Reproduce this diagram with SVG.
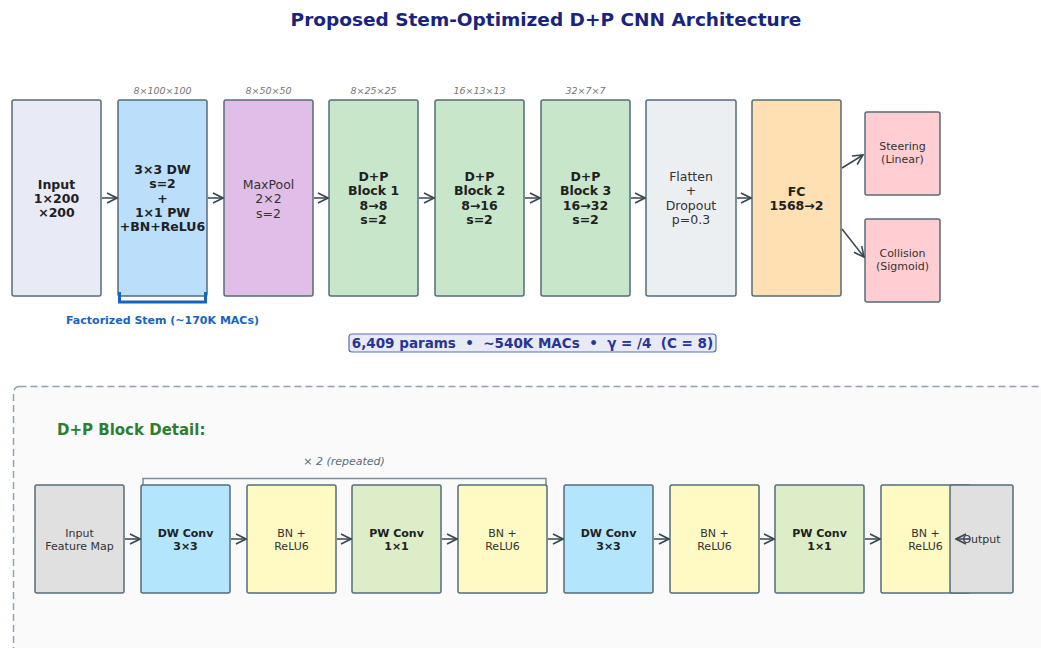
<svg xmlns="http://www.w3.org/2000/svg" width="1041" height="648" viewBox="0 0 1041 648">
<defs>
<marker id="ah" viewBox="0 0 12 12" refX="11" refY="6" markerWidth="12" markerHeight="12" markerUnits="userSpaceOnUse" orient="auto">
<path d="M1,1 L11,6 L1,11" fill="none" stroke="#37474f" stroke-width="1.6"/>
</marker>
<style>
text{font-family:"DejaVu Sans","Liberation Sans",sans-serif;fill:#263238;text-anchor:middle}
.bx{stroke:#546e7a;stroke-width:1.5}
.b{font-weight:bold;font-size:12.5px;fill:#212121}
.n{font-size:12.5px;fill:#333333}
.s{font-size:11px;fill:#333333}
.sb{font-size:11px;font-weight:bold;fill:#212121}
.dim{font-size:9.5px;font-style:italic;fill:#757575}
.c{stroke:#37474f;stroke-width:1.5;fill:none;marker-end:url(#ah)}
</style>
</defs>
<rect width="1041" height="648" fill="#ffffff"/>
<text x="546" y="26" style="font-size:18.5px;font-weight:bold;fill:#1a237e">Proposed Stem-Optimized D+P CNN Architecture</text>

<g id="input"><rect class="bx" x="12" y="100" width="89" height="196" rx="2" fill="#e8eaf6"/><text class="b"><tspan x="56.5" y="189">Input</tspan><tspan x="56.5" y="203">1×200</tspan><tspan x="56.5" y="217">×200</tspan></text></g>
<g id="stem"><rect class="bx" x="118" y="100" width="89" height="196" rx="2" fill="#bbdefb"/><text class="dim" x="162.5" y="94">8×100×100</text><text class="b"><tspan x="162.5" y="174">3×3 DW</tspan><tspan x="162.5" y="188.3">s=2</tspan><tspan x="162.5" y="202.6">+</tspan><tspan x="162.5" y="216.9">1×1 PW</tspan><tspan x="162.5" y="231.2">+BN+ReLU6</tspan></text></g>
<g id="maxpool"><rect class="bx" x="224" y="100" width="89" height="196" rx="2" fill="#e1bee7"/><text class="dim" x="268.5" y="94">8×50×50</text><text class="n"><tspan x="268.5" y="189">MaxPool</tspan><tspan x="268.5" y="203.3">2×2</tspan><tspan x="268.5" y="217.6">s=2</tspan></text></g>
<g id="block1"><rect class="bx" x="329" y="100" width="89" height="196" rx="2" fill="#c8e6c9"/><text class="dim" x="373.5" y="94">8×25×25</text><text class="b"><tspan x="373.5" y="181">D+P</tspan><tspan x="373.5" y="195.3">Block 1</tspan><tspan x="373.5" y="209.6">8→8</tspan><tspan x="373.5" y="223.9">s=2</tspan></text></g>
<g id="block2"><rect class="bx" x="435" y="100" width="89" height="196" rx="2" fill="#c8e6c9"/><text class="dim" x="479.5" y="94">16×13×13</text><text class="b"><tspan x="479.5" y="181">D+P</tspan><tspan x="479.5" y="195.3">Block 2</tspan><tspan x="479.5" y="209.6">8→16</tspan><tspan x="479.5" y="223.9">s=2</tspan></text></g>
<g id="block3"><rect class="bx" x="541" y="100" width="89" height="196" rx="2" fill="#c8e6c9"/><text class="dim" x="585.5" y="94">32×7×7</text><text class="b"><tspan x="585.5" y="181">D+P</tspan><tspan x="585.5" y="195.3">Block 3</tspan><tspan x="585.5" y="209.6">16→32</tspan><tspan x="585.5" y="223.9">s=2</tspan></text></g>
<g id="flatten"><rect class="bx" x="646" y="100" width="90" height="196" rx="2" fill="#eceff1"/><text class="n"><tspan x="691" y="181">Flatten</tspan><tspan x="691" y="195.3">+</tspan><tspan x="691" y="209.6">Dropout</tspan><tspan x="691" y="223.9">p=0.3</tspan></text></g>
<g id="fc"><rect class="bx" x="752" y="100" width="89" height="196" rx="2" fill="#ffe0b2"/><text class="b"><tspan x="796.5" y="196">FC</tspan><tspan x="796.5" y="210.3">1568→2</tspan></text></g>
<g id="steering"><rect class="bx" x="865" y="112" width="75" height="83" rx="2" fill="#ffcdd2"/><text class="s"><tspan x="902.5" y="150">Steering</tspan><tspan x="902.5" y="163">(Linear)</tspan></text></g>
<g id="collision"><rect class="bx" x="865" y="219" width="75" height="83" rx="2" fill="#ffcdd2"/><text class="s"><tspan x="902.5" y="257">Collision</tspan><tspan x="902.5" y="270">(Sigmoid)</tspan></text></g>

<g id="stem-bracket"><path d="M119.5,292 V302 H205.5 V292" fill="none" stroke="#1565c0" stroke-width="3"/><text x="162.5" y="324" style="font-size:11px;font-weight:bold;fill:#1565c0">Factorized Stem (~170K MACs)</text></g>
<g id="summary"><rect x="349" y="334" width="367" height="18" rx="3" fill="#e8eaf6" stroke="#5c6bc0" stroke-width="1.2"/><text x="532.5" y="348" xml:space="preserve" style="font-size:13.5px;font-weight:bold;fill:#283593;white-space:pre">6,409 params  •  ~540K MACs  •  γ = /4  (C = 8)</text></g>

<g id="detail-panel"><rect x="13.5" y="386.5" width="1050" height="290" rx="6" fill="#fafafa" stroke="#90a4ae" stroke-width="1.5" stroke-dasharray="7,4"/><text x="57" y="435" style="font-size:15px;font-weight:bold;fill:#2e7d32;text-anchor:start">D+P Block Detail:</text></g>

<g id="repeat"><path d="M143,490 V478.5 H546 V490" fill="none" stroke="#78909c" stroke-width="1.5"/><text x="344" y="465" style="font-size:11px;font-style:italic;fill:#546e7a">× 2 (repeated)</text></g>

<g id="d-input"><rect class="bx" x="35" y="485" width="89" height="108" rx="2" fill="#e0e0e0"/><text class="s"><tspan x="79.5" y="537">Input</tspan><tspan x="79.5" y="550">Feature Map</tspan></text></g>
<g id="d-dw1"><rect class="bx" x="141" y="485" width="89" height="108" rx="2" fill="#b3e5fc"/><text class="sb"><tspan x="185.5" y="537">DW Conv</tspan><tspan x="185.5" y="550">3×3</tspan></text></g>
<g id="d-bn1"><rect class="bx" x="247" y="485" width="89" height="108" rx="2" fill="#fff9c4"/><text class="s"><tspan x="291.5" y="537">BN +</tspan><tspan x="291.5" y="550">ReLU6</tspan></text></g>
<g id="d-pw1"><rect class="bx" x="352" y="485" width="89" height="108" rx="2" fill="#dcedc8"/><text class="sb"><tspan x="396.5" y="537">PW Conv</tspan><tspan x="396.5" y="550">1×1</tspan></text></g>
<g id="d-bn2"><rect class="bx" x="458" y="485" width="89" height="108" rx="2" fill="#fff9c4"/><text class="s"><tspan x="502.5" y="537">BN +</tspan><tspan x="502.5" y="550">ReLU6</tspan></text></g>
<g id="d-dw2"><rect class="bx" x="564" y="485" width="89" height="108" rx="2" fill="#b3e5fc"/><text class="sb"><tspan x="608.5" y="537">DW Conv</tspan><tspan x="608.5" y="550">3×3</tspan></text></g>
<g id="d-bn3"><rect class="bx" x="670" y="485" width="89" height="108" rx="2" fill="#fff9c4"/><text class="s"><tspan x="714.5" y="537">BN +</tspan><tspan x="714.5" y="550">ReLU6</tspan></text></g>
<g id="d-pw2"><rect class="bx" x="775" y="485" width="89" height="108" rx="2" fill="#dcedc8"/><text class="sb"><tspan x="819.5" y="537">PW Conv</tspan><tspan x="819.5" y="550">1×1</tspan></text></g>
<g id="d-bn4"><rect class="bx" x="881" y="485" width="89" height="108" rx="2" fill="#fff9c4"/><text class="s"><tspan x="925.5" y="537">BN +</tspan><tspan x="925.5" y="550">ReLU6</tspan></text></g>
<g id="d-output"><rect class="bx" x="950" y="485" width="63" height="108" rx="2" fill="#e0e0e0"/><text class="s" x="981.5" y="543">Output</text></g>

<g id="connectors">
<line class="c" x1="102" y1="198" x2="117" y2="198"/>
<line class="c" x1="208" y1="198" x2="223" y2="198"/>
<line class="c" x1="314" y1="198" x2="328" y2="198"/>
<line class="c" x1="419" y1="198" x2="434" y2="198"/>
<line class="c" x1="525" y1="198" x2="540" y2="198"/>
<line class="c" x1="631" y1="198" x2="645" y2="198"/>
<line class="c" x1="737" y1="198" x2="751" y2="198"/>
<line class="c" x1="842" y1="168" x2="863" y2="155"/>
<line class="c" x1="842" y1="229" x2="864" y2="257"/>
<line class="c" x1="125" y1="539" x2="140" y2="539"/>
<line class="c" x1="231" y1="539" x2="246" y2="539"/>
<line class="c" x1="337" y1="539" x2="351" y2="539"/>
<line class="c" x1="442" y1="539" x2="457" y2="539"/>
<line class="c" x1="548" y1="539" x2="563" y2="539"/>
<line class="c" x1="654" y1="539" x2="669" y2="539"/>
<line class="c" x1="760" y1="539" x2="774" y2="539"/>
<line class="c" x1="865" y1="539" x2="880" y2="539"/>
<line class="c" x1="970" y1="539" x2="956" y2="539"/>
</g>
</svg>
